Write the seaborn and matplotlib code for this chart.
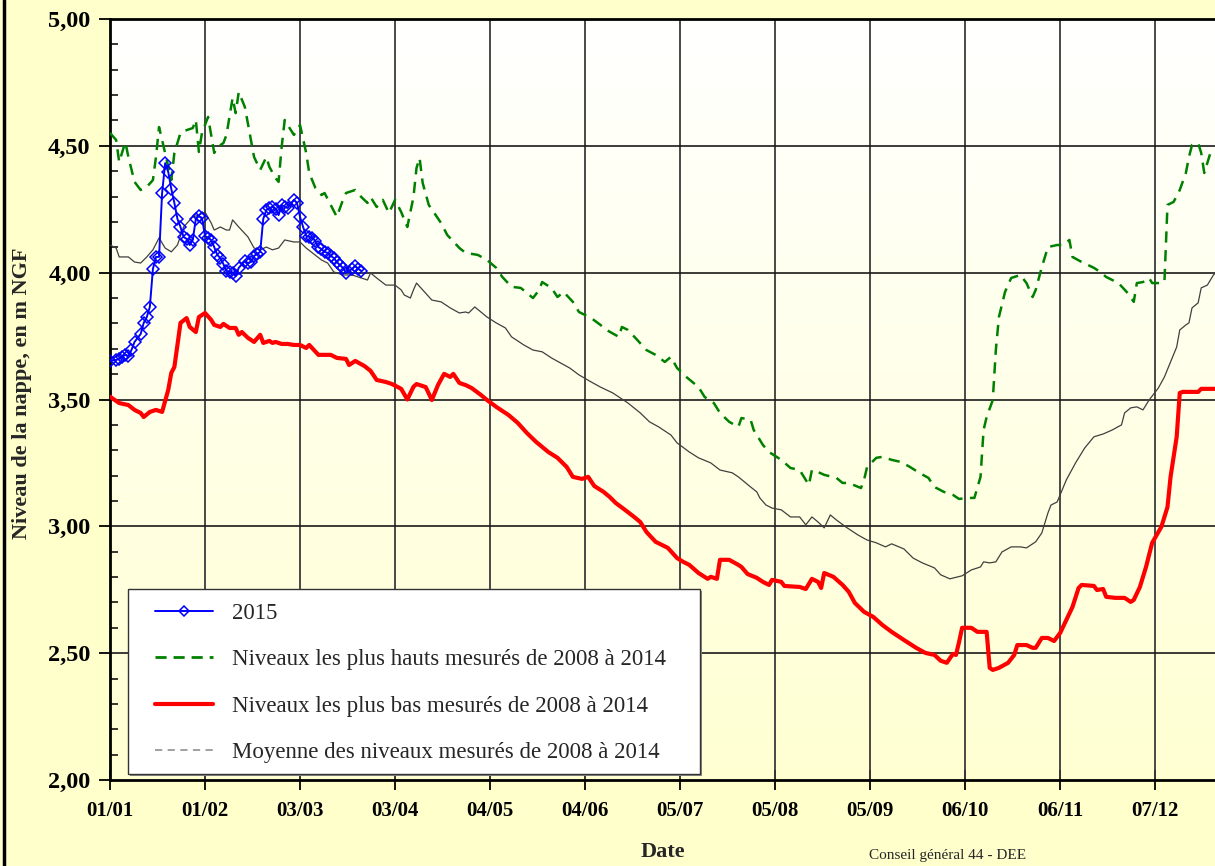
import numpy as np
import pandas as pd
import matplotlib
matplotlib.use("Agg")
import matplotlib.pyplot as plt
from matplotlib.lines import Line2D
from matplotlib.patches import Rectangle
from matplotlib.colors import LinearSegmentedColormap
import seaborn as sns

# ---------------- data (day of year, 0 = 01/01) ----------------
tick_days = [0, 31, 62, 93, 124, 155, 186, 217, 248, 279, 310, 341]
tick_labels = ["01/01", "01/02", "03/03", "03/04", "04/05", "04/06",
               "05/07", "05/08", "05/09", "06/10", "06/11", "07/12"]

days_2015 = [0, 2, 3, 4, 5, 6, 7, 8, 10, 11, 12, 13, 14, 15, 16, 17, 18, 19, 20, 21,
             22, 23, 24, 25, 26, 27, 28, 29, 30, 31, 32, 33, 34, 35, 36, 37, 38, 39, 40, 41,
             42, 44, 45, 46, 47, 48, 49, 50, 51, 52, 53, 54, 55, 56, 57, 58, 60, 61, 62, 63,
             64, 65, 66, 67, 68, 69, 70, 71, 72, 73, 74, 75, 76, 77, 79, 80, 81, 82]
vals_2015 = [3.652, 3.656, 3.660, 3.668, 3.676, 3.672, 3.695, 3.727, 3.758, 3.802,
             3.825, 3.865, 4.015, 4.062, 4.062, 4.314, 4.432, 4.397, 4.330, 4.275,
             4.212, 4.180, 4.141, 4.133, 4.109, 4.129, 4.212, 4.223, 4.216, 4.145,
             4.137, 4.129, 4.101, 4.070, 4.058, 4.034, 4.007, 4.003, 3.999, 3.987,
             4.019, 4.046, 4.038, 4.042, 4.066, 4.074, 4.082, 4.212, 4.247, 4.255,
             4.259, 4.251, 4.227, 4.267, 4.259, 4.255, 4.287, 4.275, 4.220, 4.180,
             4.145, 4.141, 4.137, 4.125, 4.101, 4.093, 4.082, 4.078, 4.066, 4.058,
             4.042, 4.030, 4.019, 3.999, 4.015, 4.026, 4.015, 4.007]

days_high = [0, 2, 3, 5, 6, 8, 10, 12, 14, 15, 16, 17, 19, 20, 21, 23, 25, 27, 28, 29,
             30, 32, 34, 35, 37, 38, 40, 41, 42, 44, 46, 47, 49, 51, 52, 54, 55, 56, 57, 59,
             60, 62, 64, 65, 67, 69, 70, 72, 74, 76, 77, 80, 82, 84, 85, 87, 89, 91, 93, 95,
             97, 99, 100, 101, 102, 104, 108, 110, 114, 116, 120, 123, 126, 128, 131, 134, 136, 138, 140, 141,
             144, 146, 148, 151, 153, 157, 160, 162, 166, 167, 169, 172, 175, 178, 181, 183, 185, 188, 192, 194,
             197, 199, 202, 205, 206, 209, 210, 213, 215, 219, 222, 225, 227, 228, 229, 231, 233, 237, 239, 241,
             245, 246, 247, 250, 252, 255, 258, 261, 264, 267, 269, 272, 275, 277, 280, 282, 284, 285, 286, 288,
             289, 290, 292, 294, 297, 299, 301, 302, 304, 306, 309, 311, 313, 314, 317, 321, 323, 325, 329, 332,
             334, 335, 337, 339, 340, 343, 344, 345, 347, 349, 351, 352, 353, 355, 356, 357, 359, 361]
vals_high = [4.551, 4.523, 4.436, 4.515, 4.456, 4.358, 4.326, 4.338, 4.365, 4.456,
             4.574, 4.523, 4.417, 4.365, 4.472, 4.551, 4.562, 4.570, 4.602, 4.476,
             4.551, 4.614, 4.472, 4.495, 4.511, 4.543, 4.689, 4.629, 4.712, 4.653,
             4.523, 4.456, 4.405, 4.456, 4.417, 4.373, 4.358, 4.495, 4.602, 4.562,
             4.543, 4.582, 4.472, 4.393, 4.334, 4.306, 4.314, 4.267, 4.220, 4.287,
             4.314, 4.326, 4.298, 4.275, 4.298, 4.259, 4.287, 4.235, 4.287, 4.239,
             4.180, 4.298, 4.413, 4.452, 4.354, 4.267, 4.196, 4.149, 4.097, 4.078,
             4.070, 4.050, 4.019, 3.983, 3.944, 3.940, 3.920, 3.900, 3.932, 3.963,
             3.940, 3.904, 3.924, 3.885, 3.845, 3.821, 3.794, 3.774, 3.747, 3.786,
             3.774, 3.735, 3.695, 3.676, 3.648, 3.668, 3.624, 3.589, 3.549, 3.510,
             3.486, 3.447, 3.412, 3.392, 3.427, 3.420, 3.380, 3.321, 3.293, 3.262,
             3.230, 3.222, 3.183, 3.163, 3.222, 3.214, 3.203, 3.191, 3.171, 3.171,
             3.151, 3.183, 3.234, 3.270, 3.274, 3.262, 3.254, 3.234, 3.211, 3.191,
             3.155, 3.136, 3.124, 3.108, 3.112, 3.112, 3.195, 3.380, 3.431, 3.498,
             3.695, 3.825, 3.924, 3.979, 3.991, 3.959, 3.904, 3.932, 4.022, 4.101,
             4.109, 4.109, 4.129, 4.062, 4.042, 4.019, 4.003, 3.983, 3.959, 3.920,
             3.885, 3.959, 3.963, 3.979, 3.959, 3.959, 3.963, 4.267, 4.279, 4.326,
             4.393, 4.456, 4.503, 4.511, 4.472, 4.393, 4.472, 4.456]

days_low = [0, 3, 6, 8, 10, 11, 13, 15, 17, 19, 20, 21, 23, 25, 26, 28, 29, 31, 33, 34,
            36, 37, 39, 41, 42, 43, 45, 47, 49, 50, 52, 53, 54, 56, 58, 60, 62, 64, 65, 68,
            69, 72, 74, 77, 78, 80, 83, 85, 87, 90, 92, 95, 97, 99, 100, 103, 105, 107, 109, 111,
            112, 114, 116, 118, 121, 123, 126, 130, 133, 136, 139, 143, 146, 149, 151, 154, 156, 158, 161, 163,
            165, 168, 171, 173, 175, 178, 182, 185, 187, 189, 192, 195, 196, 198, 199, 202, 205, 206, 208, 211,
            213, 215, 216, 219, 220, 225, 227, 229, 231, 232, 233, 236, 239, 241, 243, 246, 249, 252, 255, 259,
            263, 266, 269, 271, 273, 275, 276, 277, 278, 281, 283, 286, 287, 288, 290, 293, 295, 296, 299, 301,
            302, 304, 306, 308, 310, 312, 314, 316, 317, 321, 322, 324, 325, 328, 331, 333, 334, 336, 338, 340,
            343, 345, 346, 348, 349, 350, 355, 356, 361]
vals_low = [3.511, 3.486, 3.478, 3.459, 3.447, 3.431, 3.451, 3.459, 3.451, 3.538,
            3.605, 3.628, 3.802, 3.821, 3.786, 3.766, 3.825, 3.841, 3.814, 3.794,
            3.786, 3.798, 3.782, 3.782, 3.755, 3.766, 3.743, 3.727, 3.755, 3.723,
            3.731, 3.723, 3.727, 3.719, 3.719, 3.715, 3.715, 3.703, 3.715, 3.676,
            3.676, 3.676, 3.664, 3.660, 3.636, 3.652, 3.632, 3.613, 3.577, 3.569,
            3.561, 3.542, 3.500, 3.550, 3.561, 3.549, 3.498, 3.557, 3.601, 3.589,
            3.601, 3.565, 3.557, 3.545, 3.518, 3.498, 3.471, 3.439, 3.408, 3.368,
            3.333, 3.293, 3.270, 3.234, 3.195, 3.187, 3.195, 3.159, 3.136, 3.116,
            3.092, 3.065, 3.037, 3.017, 2.978, 2.939, 2.915, 2.875, 2.860, 2.848,
            2.816, 2.793, 2.801, 2.793, 2.868, 2.868, 2.848, 2.840, 2.812, 2.797,
            2.781, 2.769, 2.789, 2.781, 2.765, 2.761, 2.753, 2.793, 2.781, 2.757,
            2.816, 2.801, 2.769, 2.742, 2.698, 2.663, 2.643, 2.611, 2.584, 2.552,
            2.521, 2.501, 2.493, 2.470, 2.462, 2.497, 2.493, 2.544, 2.600, 2.600,
            2.584, 2.584, 2.442, 2.434, 2.442, 2.462, 2.493, 2.532, 2.532, 2.521,
            2.521, 2.560, 2.560, 2.548, 2.580, 2.631, 2.682, 2.757, 2.769, 2.765,
            2.749, 2.753, 2.722, 2.718, 2.718, 2.702, 2.710, 2.761, 2.840, 2.935,
            2.998, 3.076, 3.195, 3.353, 3.526, 3.530, 3.530, 3.542, 3.542]

days_mean = [0, 2, 3, 6, 8, 10, 12, 14, 16, 18, 20, 22, 24, 27, 29, 31, 33, 34, 36, 38,
             39, 40, 42, 45, 47, 49, 51, 53, 55, 57, 60, 62, 64, 66, 69, 71, 73, 76, 79, 82,
             84, 85, 87, 90, 93, 95, 96, 98, 99, 100, 102, 105, 108, 111, 114, 116, 117, 119, 121, 123,
             126, 129, 131, 135, 138, 141, 144, 147, 150, 153, 157, 160, 164, 169, 173, 176, 179, 183, 185, 189,
             192, 196, 199, 203, 205, 207, 209, 211, 212, 214, 216, 219, 222, 225, 227, 229, 231, 233, 235, 237,
             240, 244, 247, 250, 253, 255, 259, 262, 265, 269, 271, 274, 278, 281, 284, 285, 287, 289, 291, 294,
             297, 299, 302, 304, 306, 307, 309, 312, 315, 318, 321, 324, 327, 330, 331, 333, 335, 337, 339, 342,
             344, 346, 348, 349, 351, 352, 353, 355, 356, 358, 360, 361]
vals_mean = [4.109, 4.097, 4.062, 4.062, 4.042, 4.038, 4.062, 4.090, 4.137, 4.097,
             4.082, 4.109, 4.180, 4.220, 4.227, 4.239, 4.196, 4.168, 4.180, 4.168,
             4.168, 4.208, 4.180, 4.141, 4.097, 4.090, 4.101, 4.090, 4.097, 4.129,
             4.121, 4.121, 4.097, 4.078, 4.050, 4.038, 4.003, 3.991, 3.991, 3.979,
             3.971, 3.999, 3.979, 3.951, 3.951, 3.932, 3.912, 3.900, 3.932, 3.959,
             3.932, 3.892, 3.885, 3.861, 3.841, 3.845, 3.841, 3.865, 3.845, 3.825,
             3.802, 3.782, 3.747, 3.715, 3.695, 3.688, 3.664, 3.644, 3.624, 3.597,
             3.569, 3.549, 3.526, 3.486, 3.447, 3.412, 3.392, 3.360, 3.329, 3.293,
             3.270, 3.250, 3.222, 3.211, 3.195, 3.175, 3.155, 3.136, 3.112, 3.084,
             3.072, 3.065, 3.037, 3.037, 3.006, 3.037, 3.017, 2.994, 3.045, 3.025,
             2.998, 2.966, 2.946, 2.935, 2.919, 2.931, 2.911, 2.875, 2.856, 2.836,
             2.809, 2.793, 2.805, 2.828, 2.840, 2.860, 2.856, 2.860, 2.899, 2.919,
             2.919, 2.915, 2.939, 2.974, 3.053, 3.084, 3.096, 3.183, 3.250, 3.309,
             3.353, 3.364, 3.380, 3.400, 3.447, 3.467, 3.471, 3.459, 3.498, 3.545,
             3.589, 3.648, 3.707, 3.774, 3.794, 3.802, 3.861, 3.881, 3.940, 3.951,
             3.991, 4.003]

legend_labels = ["2015",
                 "Niveaux les plus hauts mesurés de 2008 à 2014",
                 "Niveaux les plus bas mesurés de 2008 à 2014",
                 "Moyenne des niveaux mesurés de 2008 à 2014"]

# ---------------- style ----------------
sns.set_theme(style="white")
plt.rcParams["font.family"] = ["Liberation Serif", "DejaVu Serif"]

W, H = 1215, 866
fig = plt.figure(figsize=(W / 100, H / 100), dpi=100, facecolor="#FFFFCC")
ax = fig.add_axes([110 / W, 1 - 780 / H, (W - 110) / W, (780 - 19) / H])

# background gradient of the plot area
cmap = LinearSegmentedColormap.from_list("bg", ["#FFFFFF", "#FFFFD2"])
ax.imshow(np.linspace(0, 1, 256).reshape(-1, 1), cmap=cmap, aspect="auto",
          extent=[0, 370, 2.0, 5.0], origin="upper", zorder=0)

df_mean = pd.DataFrame({"d": days_mean, "v": vals_mean})
df_low = pd.DataFrame({"d": days_low, "v": vals_low})
df_high = pd.DataFrame({"d": days_high, "v": vals_high})
df_2015 = pd.DataFrame({"d": days_2015, "v": vals_2015})

sns.lineplot(data=df_mean, x="d", y="v", ax=ax, color="#404040", lw=0.9,
             estimator=None, sort=False, legend=False, zorder=3)
sns.lineplot(data=df_low, x="d", y="v", ax=ax, color="#FF0000", lw=3.0,
             estimator=None, sort=False, legend=False, zorder=4)
sns.lineplot(data=df_high, x="d", y="v", ax=ax, color="#008000", lw=1.8,
             estimator=None, sort=False, legend=False, zorder=4,
             dashes=False, linestyle=(0, (4.5, 3)))
sns.lineplot(data=df_2015, x="d", y="v", ax=ax, color="#0000FF", lw=1.4,
             estimator=None, sort=False, legend=False, zorder=5,
             marker="D", markersize=6.5, markerfacecolor="none",
             markeredgecolor="#0000FF", markeredgewidth=1.1)

ax.set_xlim(0, 360.5)
ax.set_ylim(2.0, 5.0)
ax.set_xticks(tick_days)
ax.set_xticklabels(tick_labels)
yt = np.arange(2.0, 5.01, 0.5)
ax.set_yticks(yt)
ax.set_yticklabels([f"{v:.2f}".replace(".", ",") for v in yt])
ax.set_yticks(np.arange(2.0, 5.01, 0.1), minor=True)

for lab in ax.get_xticklabels():
    lab.set_fontweight("bold")
    lab.set_fontsize(15)
    lab.set_color("black")
for lab in ax.get_yticklabels():
    lab.set_fontweight("bold")
    lab.set_fontsize(17.5)
    lab.set_color("black")

ax.tick_params(axis="x", which="major", direction="inout", length=14, width=1.3,
               color="black", pad=8, bottom=True)
ax.tick_params(axis="y", which="major", direction="out", length=8, width=1.3,
               color="black", pad=6, left=True)
ax.tick_params(axis="y", which="minor", direction="in", length=6, width=1.1,
               color="black", left=True)

ax.grid(False)
for d in tick_days[1:]:
    ax.axvline(d, color="#3a3a3a", lw=1.3, zorder=1)
for v in yt[1:-1]:
    ax.axhline(v, color="#1a1a1a", lw=1.2, zorder=1)

for side in ["left", "bottom", "top"]:
    ax.spines[side].set_color("black")
    ax.spines[side].set_linewidth(2.0)
ax.spines["right"].set_visible(False)
ax.set_xlabel("")
ax.set_ylabel("")

# legend box (frame + shadow) drawn in figure pixels
bx0, by0, bx1, by1 = 128, 589, 700, 774
ax.add_patch(Rectangle(((bx0 + 2) / W, 1 - (by1 + 2) / H), (bx1 - bx0) / W,
                       (by1 - by0) / H, transform=fig.transFigure,
                       facecolor="#8a8a8a", edgecolor="none", zorder=8, clip_on=False))
ax.add_patch(Rectangle((bx0 / W, 1 - by1 / H), (bx1 - bx0) / W,
                       (by1 - by0) / H, transform=fig.transFigure,
                       facecolor="white", edgecolor="#333333", lw=1.0,
                       zorder=9, clip_on=False))

handles = [
    Line2D([], [], color="#0000FF", lw=1.4, marker="D", markersize=5,
           markerfacecolor="none", markeredgecolor="#0000FF", markevery=[1],
           markeredgewidth=1.1),
    Line2D([], [], color="#008000", lw=2.0, linestyle=(0, (4, 2.5))),
    Line2D([], [], color="#FF0000", lw=3.0),
    Line2D([], [], color="#999999", lw=1.3, linestyle=(0, (4, 3))),
]
leg = ax.legend(handles, legend_labels, loc="upper left",
                bbox_to_anchor=(155 / W, 1 - 603 / H),
                bbox_transform=fig.transFigure,
                borderaxespad=0, frameon=False,
                prop={"family": "Liberation Serif", "size": 16.5},
                handlelength=2.55, handletextpad=0.8, labelspacing=1.1,
                borderpad=0)
leg.set_zorder(10)

# texts
fig.text(22 / W, 1 - 393 / H, "Niveau de la nappe, en m NGF", rotation=90,
         ha="center", va="center", fontsize=16, fontweight="bold")
fig.text(663 / W, 1 - 852 / H, "Date", ha="center", va="center",
         fontsize=16, fontweight="bold")
fig.text(948 / W, 1 - 856 / H, "Conseil général 44 - DEE", ha="center",
         va="center", fontsize=11)

# left frame line of the figure
fig.add_artist(Line2D([4 / W, 4 / W], [0, 1], transform=fig.transFigure,
                      color="black", lw=2.5))

fig.savefig("out.png", dpi=100, facecolor=fig.get_facecolor())
